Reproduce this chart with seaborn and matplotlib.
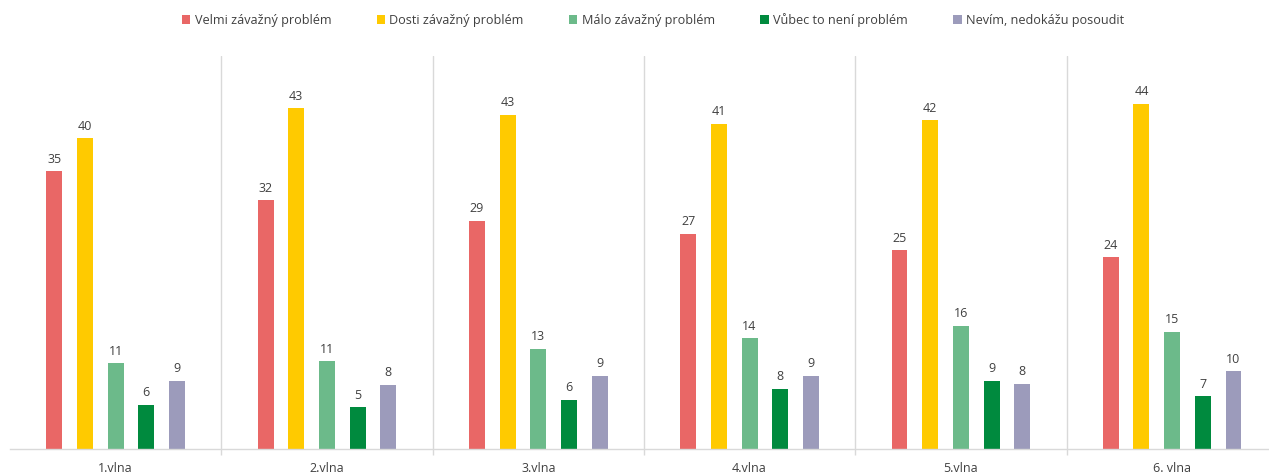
import matplotlib
matplotlib.use("Agg")
import matplotlib.pyplot as plt
import seaborn as sns
import pandas as pd

# ---- data ----
waves = ["1.vlna", "2.vlna", "3.vlna", "4.vlna", "5.vlna", "6. vlna"]
series = ["Velmi závažný problém", "Dosti závažný problém", "Málo závažný problém",
          "Vůbec to není problém", "Nevím, nedokážu posoudit"]
velmi = [35.4, 31.7, 29.1, 27.4, 25.3, 24.4]
dosti = [39.6, 43.4, 42.6, 41.4, 41.9, 44.0]
malo = [10.9, 11.2, 12.8, 14.1, 15.7, 14.9]
vubec = [5.6, 5.3, 6.3, 7.7, 8.7, 6.7]
nevim = [8.7, 8.2, 9.3, 9.3, 8.3, 9.9]
colors = ["#E96766", "#FFCA00", "#6CBA8A", "#008A3E", "#9C9BBB"]

values = [velmi, dosti, malo, vubec, nevim]
rows = []
for s, vals in zip(series, values):
    for w, v in zip(waves, vals):
        rows.append({"vlna": w, "serie": s, "hodnota": v})
df = pd.DataFrame(rows)

sns.set_theme(style="white")
plt.rcParams["font.family"] = ["Open Sans", "DejaVu Sans"]

W, H = 1269, 474
fig = plt.figure(figsize=(W / 100, H / 100), dpi=100)
left_px, base_px, top_px, pitch = 10, 449, 56.5, 211.3
ax = fig.add_axes([left_px / W, (H - base_px) / H, 6 * pitch / W, (base_px - top_px) / H])

sns.barplot(data=df, x="vlna", y="hodnota", hue="serie", order=waves, hue_order=series,
            palette=colors, width=0.726, gap=0.48, saturation=1, ax=ax, legend=True,
            edgecolor="none", linewidth=0)

for cont in ax.containers:
    ax.bar_label(cont, labels=[f"{b.get_height():.0f}" for b in cont], padding=4,
                 fontsize=9, color="#404040")

ax.set_xlim(-0.5, 5.5)
ax.set_ylim(0, 50)
ax.set_xlabel("")
ax.set_ylabel("")
ax.set_yticks([])
for sp in ["left", "right", "top"]:
    ax.spines[sp].set_visible(False)
ax.spines["bottom"].set_color("#D9D9D9")
ax.spines["bottom"].set_linewidth(1)

ax.set_xticks(range(len(waves)))
ax.set_xticklabels(waves, fontsize=9, color="#404040")
ax.tick_params(axis="x", which="major", length=0, pad=9)
ax.set_xticks([i + 0.5 for i in range(len(waves) - 1)], minor=True)
ax.tick_params(axis="x", which="minor", length=4, color="#D9D9D9", width=1, bottom=True)
ax.grid(axis="x", which="minor", color="#D9D9D9", linewidth=1)
ax.grid(axis="x", which="major", visible=False)
ax.set_axisbelow(True)

handles, labels = ax.get_legend_handles_labels()
ax.legend_.remove()
fig.legend(handles, labels, loc="center", bbox_to_anchor=(653 / W, 1 - 20 / H), ncol=5,
           frameon=False, fontsize=9.1, handlelength=0.65, handleheight=0.65,
           handletextpad=0.35, columnspacing=3.6, labelcolor="#404040")

fig.savefig("out.png", dpi=100, facecolor="white")
